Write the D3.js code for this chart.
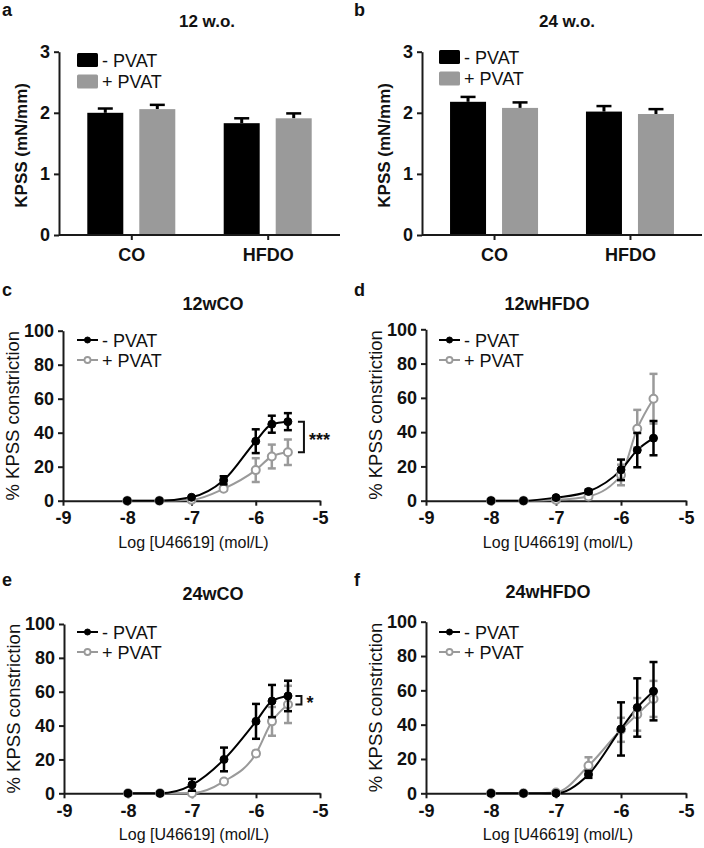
<!DOCTYPE html>
<html>
<head>
<meta charset="utf-8">
<script src="https://cdn.jsdelivr.net/npm/d3@7"></script>
<style>
  html, body { margin: 0; padding: 0; background: #fff; }
  svg { display: block; font-family: "Liberation Sans", Arial, sans-serif; }
</style>
</head>
<body>
<svg id="chart" width="704" height="848"></svg>
<script>
// ---------- DATA ----------
const barCategories = ["CO", "HFDO"];
const seriesNames = ["- PVAT", "+ PVAT"];
const barTicks = [0, 1, 2, 3];

// Panel a (12 w.o.)
const a_minus = [2.00, 1.83];
const a_minus_sem = [0.07, 0.08];
const a_plus = [2.06, 1.91];
const a_plus_sem = [0.07, 0.08];
// Panel b (24 w.o.)
const b_minus = [2.18, 2.02];
const b_minus_sem = [0.08, 0.09];
const b_plus = [2.08, 1.98];
const b_plus_sem = [0.09, 0.08];

// Concentration-response
const logConc = [-8, -7.5, -7, -6.5, -6, -5.75, -5.5];
const xTicks = [-9, -8, -7, -6, -5];
const yTicks = [0, 20, 40, 60, 80, 100];

const c_minus = [0, 0, 2, 12, 35, 45, 46.5];
const c_minus_sem = [0, 0, 0.5, 2.4, 7, 5, 5];
const c_plus = [0, 0, 0.5, 7, 18, 26, 28.5];
const c_plus_sem = [0, 0, 0.3, 1, 7, 7, 7.5];

const d_minus = [0, 0, 1.8, 5.4, 18, 29.5, 36.5];
const d_minus_sem = [0, 0, 0.5, 1, 6, 10, 10];
const d_plus = [0, 0, 0.5, 2.5, 15, 42, 59.5];
const d_plus_sem = [0, 0, 0.3, 1, 6, 11, 14.5];

const e_minus = [0, 0, 5, 20, 42.5, 54.5, 57.5];
const e_minus_sem = [0, 0, 3.5, 7, 10.3, 9.5, 9];
const e_plus = [0, 0, 0, 7, 23.5, 42.5, 52.5];
const e_plus_sem = [0, 0, 0.5, 1, 1.5, 8.5, 11];

const f_minus = [0, 0, 0, 11, 37.5, 50, 59.5];
const f_minus_sem = [0, 0, 0, 2, 15.5, 17, 17];
const f_plus = [0, 0, 0.5, 16, 37, 46, 55];
const f_plus_sem = [0, 0, 0.3, 5, 7, 9.5, 10.5];

// ---------- DRAWING ----------
const svg = d3.select("#chart");
const BLACK = "#000";
const GRAY = "#9a9a9a";
const AXIS = "#1a1a1a";

function styleAxis(g, fontSize, bold) {
  g.select(".domain").attr("stroke", AXIS).attr("stroke-width", 2);
  g.selectAll(".tick line").attr("stroke", AXIS).attr("stroke-width", 2);
  g.selectAll(".tick text")
    .attr("fill", "#111")
    .style("font-size", fontSize + "px")
    .style("font-weight", bold ? "bold" : "normal")
    .style("font-family", '"Liberation Sans", Arial, sans-serif');
}

function barPanel(o) {
  const g = svg.append("g");
  const y = d3.scaleLinear().domain([0, 3]).range([o.bottom, o.top]);
  const x = d3.scalePoint().domain(barCategories).range([o.left, o.right]).padding(0.53);
  const xs = d3.scaleBand().domain(seriesNames).range([-44, 44]).paddingInner(0.3077);

  const series = [
    { name: seriesNames[0], vals: o.minus, sem: o.minusSem, color: BLACK },
    { name: seriesNames[1], vals: o.plus, sem: o.plusSem, color: GRAY }
  ];

  series.forEach(s => {
    barCategories.forEach((c, i) => {
      const bx = x(c) + xs(s.name);
      const bw = xs.bandwidth();
      g.append("line")
        .attr("x1", bx + bw / 2).attr("x2", bx + bw / 2)
        .attr("y1", y(s.vals[i])).attr("y2", y(s.vals[i] + s.sem[i]))
        .attr("stroke", BLACK).attr("stroke-width", 3);
      g.append("line")
        .attr("x1", bx + bw / 2 - 7.5).attr("x2", bx + bw / 2 + 7.5)
        .attr("y1", y(s.vals[i] + s.sem[i])).attr("y2", y(s.vals[i] + s.sem[i]))
        .attr("stroke", BLACK).attr("stroke-width", 2.5);
      g.append("rect")
        .attr("x", bx).attr("width", bw)
        .attr("y", y(s.vals[i])).attr("height", y(0) - y(s.vals[i]))
        .attr("fill", s.color);
    });
  });

  const ya = g.append("g").attr("transform", `translate(${o.left},0)`)
    .call(d3.axisLeft(y).tickValues(barTicks).tickFormat(d3.format("d")).tickSize(5).tickSizeOuter(0).tickPadding(4));
  styleAxis(ya, 18, true);
  const xa = g.append("g").attr("transform", `translate(0,${o.bottom})`)
    .call(d3.axisBottom(x).tickSize(5).tickSizeOuter(0).tickPadding(8));
  xa.select(".domain").attr("d", `M${o.left},0H${o.right}`);
  styleAxis(xa, 18, true);

  g.append("text")
    .attr("transform", `translate(${o.left - 38},${(o.top + o.bottom) / 2 + 2}) rotate(-90)`)
    .attr("text-anchor", "middle").attr("dominant-baseline", "central")
    .style("font-size", "17px").style("font-weight", "bold").attr("fill", "#111")
    .text("KPSS (mN/mm)");
  g.append("text").attr("x", o.titleX).attr("y", 27).attr("text-anchor", "middle")
    .style("font-size", "17px").style("font-weight", "bold").attr("fill", "#111").text(o.title);
  g.append("text").attr("x", o.letterX).attr("y", 16)
    .style("font-size", "18px").style("font-weight", "bold").attr("fill", "#111").text(o.letter);

  series.forEach((s, i) => {
    const ly = o.legY + i * 21.5;
    g.append("rect").attr("x", o.legX).attr("y", ly).attr("width", 21).attr("height", 14)
      .attr("rx", 1.5).attr("fill", s.color);
    g.append("text").attr("x", o.legX + 25).attr("y", ly + 13.5)
      .style("font-size", "18px").attr("fill", "#111").text(s.name);
  });
}

function curvePanel(o) {
  const g = svg.append("g");
  const x = d3.scaleLinear().domain([-9, -5]).range([o.left, o.right]);
  const y = d3.scaleLinear().domain([0, 100]).range([o.bottom, o.top]);

  const series = [
    { name: seriesNames[1], vals: o.plus, sem: o.plusSem, color: GRAY, open: true },
    { name: seriesNames[0], vals: o.minus, sem: o.minusSem, color: BLACK, open: false }
  ];

  const ya = g.append("g").attr("transform", `translate(${o.left},0)`)
    .call(d3.axisLeft(y).tickValues(yTicks).tickSize(5).tickSizeOuter(0).tickPadding(4));
  styleAxis(ya, 18, true);
  const xa = g.append("g").attr("transform", `translate(0,${o.bottom})`)
    .call(d3.axisBottom(x).tickValues(xTicks).tickFormat(d3.format("d")).tickSize(5).tickSizeOuter(0).tickPadding(6));
  styleAxis(xa, 18, true);
  xa.selectAll(".tick text").text(d => d < 0 ? "-" + Math.abs(d) : d);

  const line = d3.line().x((d, i) => x(logConc[i])).y(d => y(d)).curve(d3.curveMonotoneX);

  series.forEach(s => {
    g.append("path").attr("d", line(s.vals)).attr("fill", "none")
      .attr("stroke", s.color).attr("stroke-width", 2);
  });
  series.forEach(s => {
    s.vals.forEach((v, i) => {
      const cx = x(logConc[i]);
      if (s.sem[i] > 0.9) {
        g.append("line").attr("x1", cx).attr("x2", cx)
          .attr("y1", y(v - s.sem[i])).attr("y2", y(v + s.sem[i]))
          .attr("stroke", s.color).attr("stroke-width", 2.5);
        [v - s.sem[i], v + s.sem[i]].forEach(e => {
          g.append("line").attr("x1", cx - 4).attr("x2", cx + 4)
            .attr("y1", y(e)).attr("y2", y(e))
            .attr("stroke", s.color).attr("stroke-width", 2.5);
        });
      }
      g.append("circle").attr("cx", cx).attr("cy", y(v))
        .attr("r", 4)
        .attr("fill", s.open ? "#fff" : s.color)
        .attr("stroke", s.color).attr("stroke-width", s.open ? 2 : 1);
    });
  });

  if (o.sig) {
    const bx = x(o.sig.at);
    const y1 = y(o.minus[o.minus.length - 1]);
    const y2 = y(o.plus[o.plus.length - 1]);
    g.append("path")
      .attr("d", `M${bx - 6},${y1}H${bx}V${y2}H${bx - 6}`)
      .attr("fill", "none").attr("stroke", "#111").attr("stroke-width", 2);
    g.append("text").attr("x", bx + 5).attr("y", (y1 + y2) / 2 + 9)
      .style("font-size", "18px").style("font-weight", "bold").attr("fill", "#111").text(o.sig.label);
  }

  g.append("text")
    .attr("transform", `translate(${o.left - 51},${(o.top + o.bottom) / 2}) rotate(-90)`)
    .attr("text-anchor", "middle").attr("dominant-baseline", "central")
    .style("font-size", "18.5px").attr("fill", "#111")
    .text("% KPSS constriction");
  g.append("text").attr("x", (o.left + o.right) / 2 + 2).attr("y", o.bottom + 47)
    .attr("text-anchor", "middle").style("font-size", "16px").attr("fill", "#111")
    .text("Log [U46619] (mol/L)");
  g.append("text").attr("x", o.titleX).attr("y", o.titleY).attr("text-anchor", "middle")
    .style("font-size", "18px").style("font-weight", "bold").attr("fill", "#111").text(o.title);
  g.append("text").attr("x", o.letterX).attr("y", o.letterY)
    .style("font-size", "18px").style("font-weight", "bold").attr("fill", "#111").text(o.letter);

  [series[1], series[0]].forEach((s, i) => {
    const ly = o.legY + i * 20;
    g.append("line").attr("x1", o.legX).attr("x2", o.legX + 21).attr("y1", ly).attr("y2", ly)
      .attr("stroke", s.color).attr("stroke-width", 2);
    g.append("circle").attr("cx", o.legX + 10.5).attr("cy", ly).attr("r", 3)
      .attr("fill", s.open ? "#fff" : s.color).attr("stroke", s.color).attr("stroke-width", s.open ? 1.8 : 1);
    g.append("text").attr("x", o.legX + 25).attr("y", ly + 6.5)
      .style("font-size", "18px").attr("fill", "#111").text(s.name);
  });
}

barPanel({ left: 59, right: 340, top: 51.7, bottom: 235, title: "12 w.o.", titleX: 207, letter: "a", letterX: 2,
  minus: a_minus, minusSem: a_minus_sem, plus: a_plus, plusSem: a_plus_sem, legX: 77, legY: 53 });
barPanel({ left: 422, right: 702, top: 51.7, bottom: 235, title: "24 w.o.", titleX: 567, letter: "b", letterX: 354,
  minus: b_minus, minusSem: b_minus_sem, plus: b_plus, plusSem: b_plus_sem, legX: 439, legY: 50 });

curvePanel({ left: 63, right: 320, top: 330.7, bottom: 500.7, title: "12wCO", titleX: 213, titleY: 310,
  letter: "c", letterX: 2, letterY: 296, minus: c_minus, minusSem: c_minus_sem, plus: c_plus, plusSem: c_plus_sem,
  legX: 77, legY: 340, sig: { at: -5.25, label: "***" } });
curvePanel({ left: 426, right: 686, top: 329.3, bottom: 500.7, title: "12wHFDO", titleX: 547, titleY: 310,
  letter: "d", letterX: 354, letterY: 296, minus: d_minus, minusSem: d_minus_sem, plus: d_plus, plusSem: d_plus_sem,
  legX: 439, legY: 340 });
curvePanel({ left: 64, right: 320, top: 624, bottom: 793.3, title: "24wCO", titleX: 213, titleY: 600,
  letter: "e", letterX: 2, letterY: 586, minus: e_minus, minusSem: e_minus_sem, plus: e_plus, plusSem: e_plus_sem,
  legX: 77, legY: 632, sig: { at: -5.29, label: "*" } });
curvePanel({ left: 426, right: 686, top: 621.7, bottom: 793.3, title: "24wHFDO", titleX: 548, titleY: 598,
  letter: "f", letterX: 354, letterY: 586, minus: f_minus, minusSem: f_minus_sem, plus: f_plus, plusSem: f_plus_sem,
  legX: 439, legY: 632 });
</script>
</body>
</html>
